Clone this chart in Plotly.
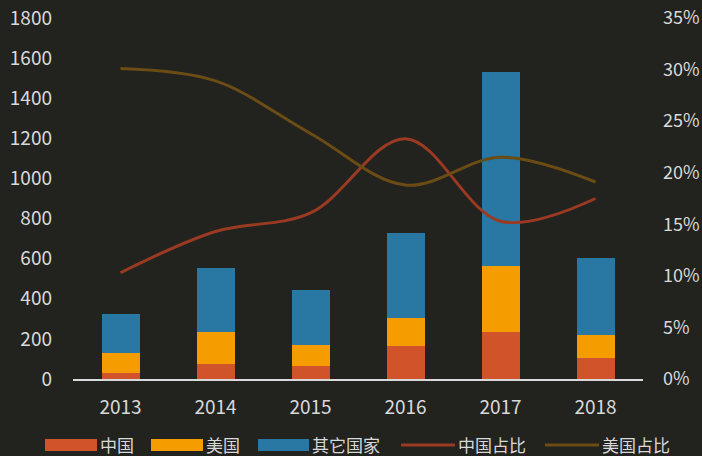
import plotly.graph_objects as go

years = ["2013", "2014", "2015", "2016", "2017", "2018"]
china = [30, 75, 65, 164, 234, 105]
usa = [100, 159, 105, 140, 329, 114]
others = [194, 319, 274, 424, 967, 384]
china_share = [0.103, 0.143, 0.161, 0.233, 0.153, 0.175]
usa_share = [0.301, 0.289, 0.238, 0.188, 0.215, 0.191]

BG = "#22221f"
TXT = "#d9d9d9"
FONT = "Noto Sans CJK SC"
C_CN, C_US, C_OT = "#d0532a", "#f59c00", "#2878a3"
L_CN, L_US = "#9a3a22", "#6b4c14"

# plot area in pixels (for placing the hand-built legend)
L, R, T, B = 73, 643, 18, 379


def px_x(v):
    return (v - L) / (R - L)


def px_y(v):
    return (B - v) / (B - T)


fig = go.Figure()
for name, vals, color in [("中国", china, C_CN), ("美国", usa, C_US), ("其它国家", others, C_OT)]:
    fig.add_trace(go.Bar(x=years, y=vals, name=name, marker_color=color, marker_line_width=0))

for name, vals, color in [("中国占比", china_share, L_CN), ("美国占比", usa_share, L_US)]:
    fig.add_trace(go.Scatter(x=years, y=vals, name=name, yaxis="y2", mode="lines",
                             line=dict(color=color, width=3, shape="spline")))

# legend: wide swatches like the original
legend_items = [("中国", C_CN, "box", 45, 97), ("美国", C_US, "box", 151, 203),
                ("其它国家", C_OT, "box", 258, 309), ("中国占比", L_CN, "line", 401, 455),
                ("美国占比", L_US, "line", 545, 599)]
for label, color, kind, x0, x1 in legend_items:
    if kind == "box":
        fig.add_shape(type="rect", xref="paper", yref="paper", x0=px_x(x0), x1=px_x(x1),
                      y0=px_y(451), y1=px_y(439), fillcolor=color, line_width=0)
    else:
        fig.add_shape(type="line", xref="paper", yref="paper", x0=px_x(x0), x1=px_x(x1),
                      y0=px_y(445), y1=px_y(445), line=dict(color=color, width=3))
    fig.add_annotation(text=label, xref="paper", yref="paper", x=px_x(x1 + 2), y=px_y(444),
                       xanchor="left", yanchor="middle", showarrow=False, borderpad=0,
                       font=dict(size=17, color=TXT))

fig.update_layout(
    width=702, height=456,
    barmode="stack", bargap=0.6, showlegend=False,
    paper_bgcolor=BG, plot_bgcolor=BG,
    font=dict(family=FONT, size=19, color=TXT),
    margin=dict(l=L, r=702 - R, t=T, b=456 - B, autoexpand=False),
    xaxis=dict(showgrid=False, showline=True, linecolor=TXT, linewidth=2,
               ticks="", ticklabelstandoff=10, automargin=False),
    yaxis=dict(range=[0, 1800], dtick=200, showgrid=False, zeroline=False,
               ticks="", ticklabelstandoff=20, automargin=False),
    yaxis2=dict(range=[0, 0.35], dtick=0.05, tickformat=".0%", overlaying="y",
                side="right", showgrid=False, zeroline=False, ticks="",
                ticklabelstandoff=19, automargin=False, tickfont=dict(size=18)),
)

fig.write_html("out.html", config={"displayModeBar": False},
               post_script="document.body.style.margin='0px';")
